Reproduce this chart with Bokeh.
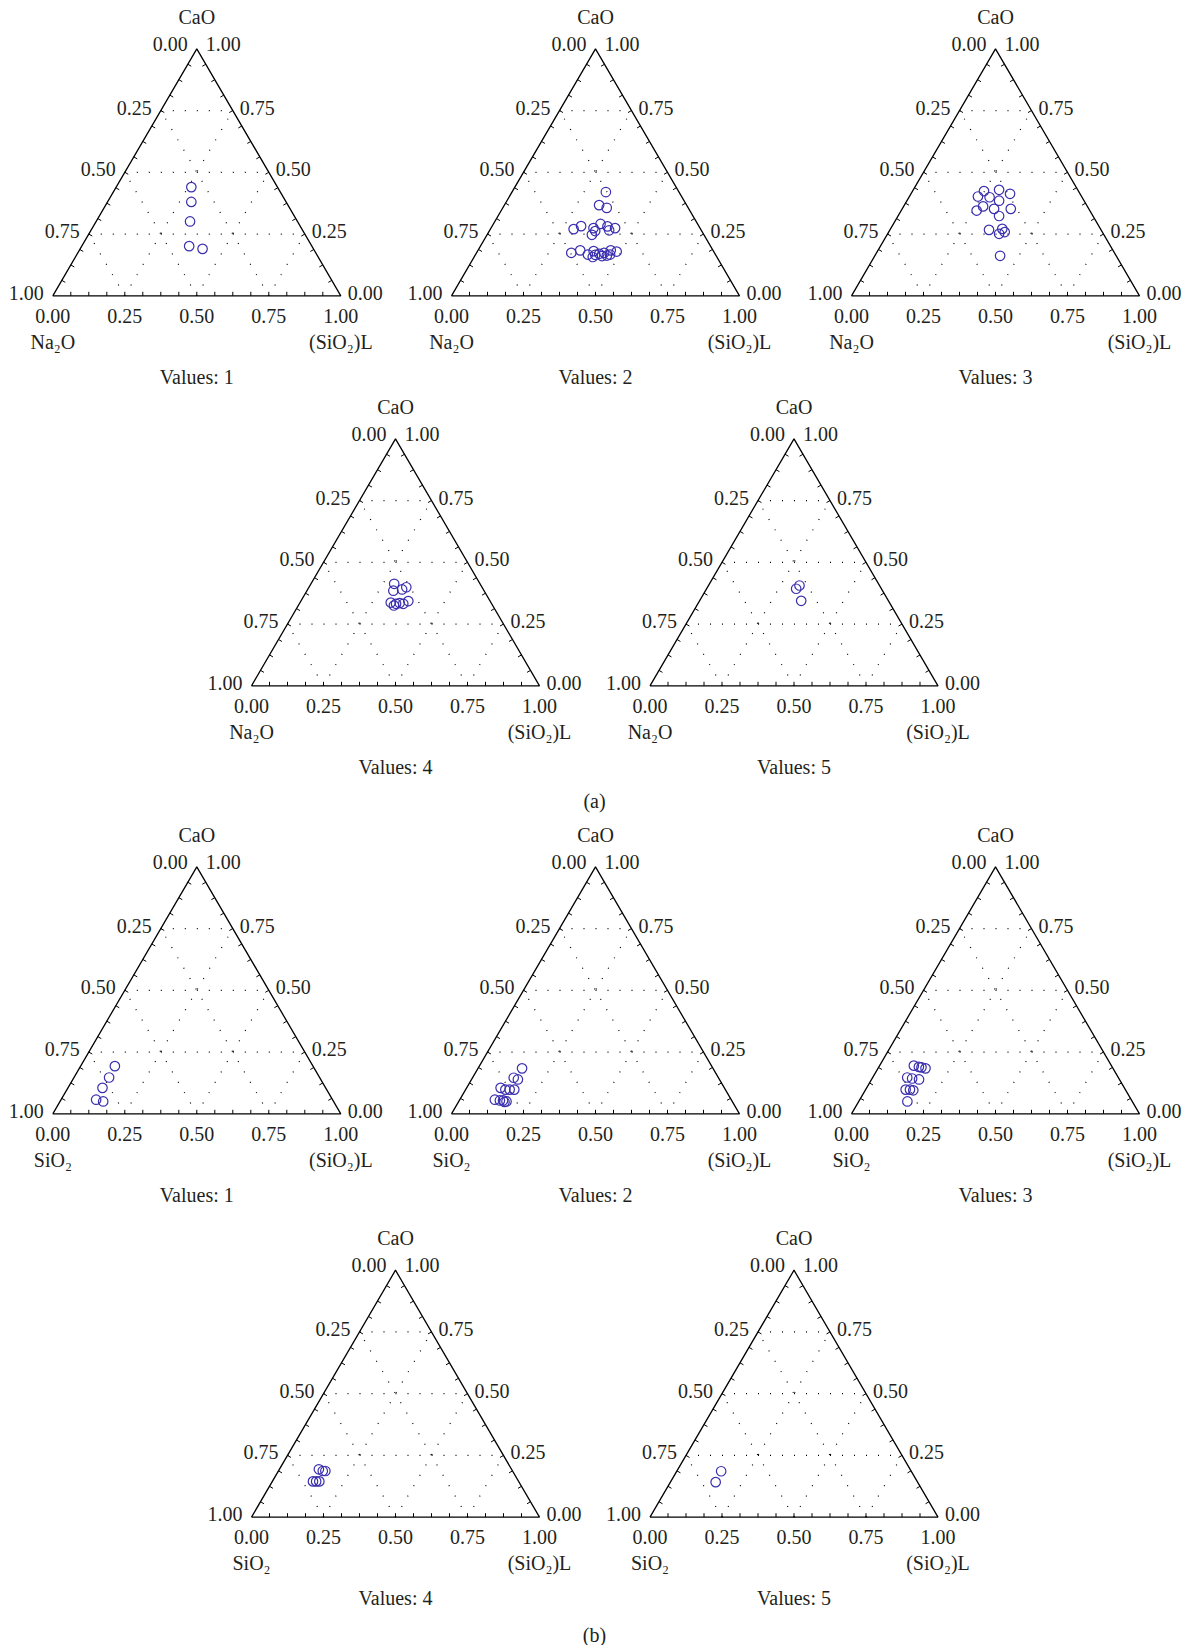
import numpy as np
from bokeh.plotting import figure
from bokeh.models import Range1d, ColumnDataSource
from bokeh.core.properties import value
from bokeh.embed import file_html
from bokeh.resources import INLINE

# ---------------- data: ternary fractions (CaO, (SiO2)L); third component = 1 - both
a1_cao = [0.440, 0.380, 0.301, 0.201, 0.190]
a1_sio2l = [0.261, 0.291, 0.326, 0.373, 0.425]

a2_cao = [0.420, 0.367, 0.356, 0.270, 0.282, 0.274, 0.291, 0.281, 0.274, 0.262, 0.247, 0.265,
          0.174, 0.184, 0.167, 0.181, 0.157, 0.170, 0.174, 0.163, 0.184, 0.179, 0.167, 0.161, 0.166]
a2_sio2l = [0.326, 0.329, 0.361, 0.289, 0.309, 0.356, 0.372, 0.401, 0.431, 0.368, 0.364, 0.415,
            0.329, 0.355, 0.390, 0.403, 0.412, 0.428, 0.443, 0.458, 0.461, 0.484, 0.467, 0.442, 0.416]

a3_cao = [0.424, 0.429, 0.413, 0.402, 0.399, 0.385, 0.362, 0.352, 0.352, 0.345, 0.323, 0.267,
          0.271, 0.251, 0.258, 0.162]
a3_sio2l = [0.248, 0.298, 0.344, 0.238, 0.280, 0.320, 0.276, 0.319, 0.377, 0.262, 0.351, 0.344,
            0.388, 0.387, 0.403, 0.435]

a4_cao = [0.413, 0.399, 0.385, 0.390, 0.337, 0.325, 0.335, 0.332, 0.343, 0.332]
a4_sio2l = [0.289, 0.338, 0.300, 0.328, 0.315, 0.332, 0.347, 0.361, 0.373, 0.336]

a5_cao = [0.406, 0.393, 0.344]
a5_sio2l = [0.316, 0.311, 0.353]

b1_cao = [0.193, 0.147, 0.105, 0.057, 0.050]
b1_sio2l = [0.119, 0.122, 0.120, 0.122, 0.150]

b2_cao = [0.184, 0.146, 0.139, 0.105, 0.098, 0.098, 0.098, 0.057, 0.054, 0.054, 0.050, 0.048]
b2_sio2l = [0.153, 0.143, 0.161, 0.118, 0.138, 0.153, 0.169, 0.122, 0.141, 0.152, 0.166, 0.160]

b3_cao = [0.195, 0.190, 0.188, 0.184, 0.147, 0.143, 0.139, 0.098, 0.098, 0.095, 0.050]
b3_sio2l = [0.119, 0.139, 0.149, 0.165, 0.120, 0.139, 0.165, 0.139, 0.154, 0.167, 0.169]

b4_cao = [0.194, 0.187, 0.187, 0.145, 0.145, 0.145]
b4_sio2l = [0.137, 0.154, 0.163, 0.141, 0.152, 0.163]

b5_cao = [0.186, 0.142]
b5_sio2l = [0.154, 0.157]

major_ticks = [0.0, 0.25, 0.5, 0.75, 1.0]
tick_labels = ["0.00", "0.25", "0.50", "0.75", "1.00"]
titles = ["Values: 1", "Values: 2", "Values: 3", "Values: 4", "Values: 5"]

# ---------------- layout (page pixel coordinates)
W, H = 288.0, 247.0
FONT = value("Liberation Serif")
FS = "20px"
PT_COLOR = "#3a2fae"
FIG_W, FIG_H = 1182, 1645

panels = [
    (52.3, 295.3, a1_cao, a1_sio2l, "Na₂O", titles[0]),
    (451.0, 295.3, a2_cao, a2_sio2l, "Na₂O", titles[1]),
    (851.0, 295.3, a3_cao, a3_sio2l, "Na₂O", titles[2]),
    (251.0, 685.3, a4_cao, a4_sio2l, "Na₂O", titles[3]),
    (649.5, 685.3, a5_cao, a5_sio2l, "Na₂O", titles[4]),
    (52.3, 1113.3, b1_cao, b1_sio2l, "SiO₂", titles[0]),
    (451.0, 1113.3, b2_cao, b2_sio2l, "SiO₂", titles[1]),
    (851.0, 1113.3, b3_cao, b3_sio2l, "SiO₂", titles[2]),
    (251.0, 1516.7, b4_cao, b4_sio2l, "SiO₂", titles[3]),
    (649.5, 1516.7, b5_cao, b5_sio2l, "SiO₂", titles[4]),
]

p = figure(width=FIG_W, height=FIG_H, output_backend="svg", toolbar_location=None,
           x_range=Range1d(0, FIG_W), y_range=Range1d(FIG_H, 0),
           x_axis_type=None, y_axis_type=None, min_border=0)
p.outline_line_color = None
p.grid.visible = False
p.background_fill_color = "white"


def tern(X0, Y0, c, s):
    c = np.asarray(c, dtype=float)
    s = np.asarray(s, dtype=float)
    return X0 + (s + c / 2.0) * W, Y0 - c * H


texts = {"x": [], "y": [], "t": [], "align": []}


def add_text(x, y, t, align):
    texts["x"].append(x)
    texts["y"].append(y)
    texts["t"].append(t)
    texts["align"].append(align)


grid_xs, grid_ys = [], []
tick_xs, tick_ys = [], []
edge_xs, edge_ys = [], []

for (X0, Y0, cao, sil, left_name, title) in panels:
    ax, ay = X0 + W / 2, Y0 - H
    edge_xs.append([X0, X0 + W, ax, X0])
    edge_ys.append([Y0, Y0, ay, Y0])

    for g in [0.25, 0.5, 0.75]:
        # constant CaO (horizontal)
        x1, y1 = tern(X0, Y0, g, 0.0)
        x2, y2 = tern(X0, Y0, g, 1 - g)
        grid_xs.append([float(x1), float(x2)]); grid_ys.append([float(y1), float(y2)])
        # constant (SiO2)L
        x1, y1 = tern(X0, Y0, 0.0, g)
        x2, y2 = tern(X0, Y0, 1 - g, g)
        grid_xs.append([float(x1), float(x2)]); grid_ys.append([float(y1), float(y2)])
        # constant left component
        x1, y1 = tern(X0, Y0, 0.0, 1 - g)
        x2, y2 = tern(X0, Y0, 1 - g, 0.0)
        grid_xs.append([float(x1), float(x2)]); grid_ys.append([float(y1), float(y2)])

    # ticks (perpendicular inward)
    for k in range(1, 16):
        f = k / 16.0
        L = 4.0
        bx, by = X0 + f * W, Y0
        tick_xs.append([bx, bx]); tick_ys.append([by, by - L])
        lx, ly = X0 + f * W / 2, Y0 - f * H
        tick_xs.append([lx, lx + 0.866 * L]); tick_ys.append([ly, ly + 0.5 * L])
        rx, ry = X0 + W - f * W / 2, Y0 - f * H
        tick_xs.append([rx, rx - 0.866 * L]); tick_ys.append([ry, ry + 0.5 * L])

    add_text(ax, ay - 32, "CaO", "center")
    for v, lab in zip(major_ticks, tick_labels):
        add_text(X0 + v * W, Y0 + 20, lab, "center")
    for v, lab in zip(major_ticks, tick_labels):
        px, py = X0 + (1 - v) * W / 2, Y0 - (1 - v) * H
        if v == 0.0:
            add_text(px - 9, py - 5, lab, "right")
        else:
            add_text(px - 9, py - 3, lab, "right")
    for v, lab in zip(major_ticks, tick_labels):
        px, py = X0 + W - v * W / 2, Y0 - v * H
        if v == 1.0:
            add_text(px + 9, py - 5, lab, "left")
        else:
            add_text(px + 7, py - 3, lab, "left")
    add_text(X0, Y0 + 46, left_name, "center")
    add_text(X0 + W, Y0 + 46, "(SiO₂)L", "center")
    add_text(ax, Y0 + 81, title, "center")

add_text(594, 800, "(a)", "center")
add_text(594, 1634, "(b)", "center")

p.multi_line(grid_xs, grid_ys, line_color="black", line_width=1.2, line_dash="1 11", line_alpha=1.0)
p.multi_line(tick_xs, tick_ys, line_color="black", line_width=1)
p.multi_line(edge_xs, edge_ys, line_color="black", line_width=1.3)

for (X0, Y0, cao, sil, left_name, title) in panels:
    xs, ys = tern(X0, Y0, cao, sil)
    p.scatter(xs, ys, marker="circle", size=9.5, fill_color=None,
              line_color=PT_COLOR, line_width=1.2)

for al in ["left", "center", "right"]:
    idx = [i for i, a in enumerate(texts["align"]) if a == al]
    sub = ColumnDataSource({k: [texts[k][i] for i in idx] for k in ["x", "y", "t"]})
    p.text(x="x", y="y", text="t", source=sub, text_font=FONT, text_font_size=FS,
           text_align=al, text_baseline="middle", text_color="#231f20")

open("out.html", "w").write(file_html(p, INLINE))
